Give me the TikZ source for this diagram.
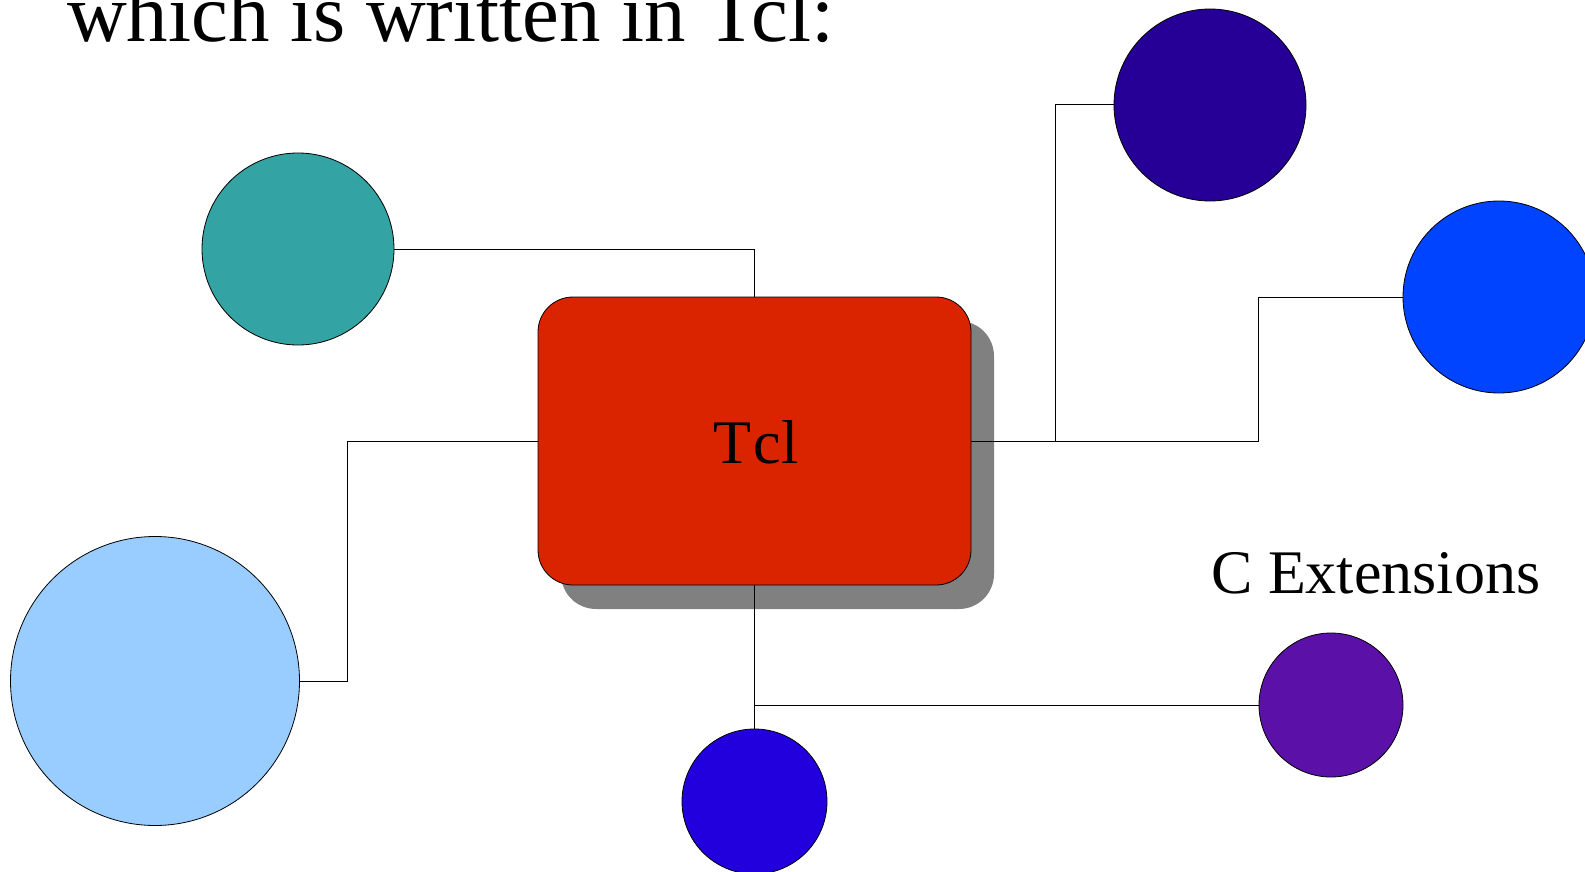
\documentclass[tikz,border=0pt]{standalone}
\usepackage{fontspec}
\setmainfont{Liberation Serif}
\begin{document}
\begin{tikzpicture}[x=1pt,y=-1pt,
  blob/.style={circle,draw=black,line width=0.8pt,inner sep=0pt,outer sep=0pt},
  wire/.style={draw=black,line width=1pt},
  core/.style={rectangle,rounded corners=35pt,minimum width=433pt,minimum height=288pt,inner sep=0pt,outer sep=0pt},
  big/.style={font=\fontsize{82.8}{99}\selectfont},
  mid/.style={font=\fontsize{62}{74}\selectfont}]
\useasboundingbox (0,0) rectangle (1585,872);
\clip (0,0) rectangle (1585,872);

% heading
\node[big,anchor=base west,inner sep=0pt] (head) at (67,42) {which is written in Tcl:};

% shadow of the central box
\node[core,fill=black!50] (shade) at (777.5,465) {};

% circles
\node[blob,fill={rgb,255:red,51;green,163;blue,163},minimum size=192pt] (teal) at (298,249) {};
\node[blob,fill={rgb,255:red,153;green,204;blue,255},minimum size=289pt] (sky) at (155,681) {};
\node[blob,fill={rgb,255:red,34;green,0;blue,221},minimum size=145pt] (low) at (754.5,801.5) {};
\node[blob,fill={rgb,255:red,91;green,17;blue,167},minimum size=144pt] (plum) at (1331,705) {};
\node[blob,fill={rgb,255:red,38;green,0;blue,150},minimum size=192pt] (ink) at (1210,105) {};
\node[blob,fill={rgb,255:red,0;green,68;blue,255},minimum size=192pt] (azure) at (1499,297) {};

% central box position (drawn after the connectors)
\coordinate (c) at (754.5,441);
\coordinate (ktop) at (754.5,297);
\coordinate (kbot) at (754.5,585);
\coordinate (kleft) at (538,441);
\coordinate (kright) at (971,441);

% connectors
\draw[wire] (teal.east) -| (ktop);
\draw[wire] (sky.east) -- (347,681) |- (kleft);
\draw[wire] (kbot) -- (low.north);
\draw[wire] (kbot) |- (plum.west);
\draw[wire] (kright) -- (1055,441) |- (ink.west);
\draw[wire] (kright) -- (1258,441) |- (azure.west);

% central box
\node[core,fill={rgb,255:red,218;green,36;blue,0},draw=black,line width=0.8pt] (tcl) at (c) {};
\node[mid,anchor=base,inner sep=0pt] (tcllabel) at (756,463) {T\kern2pt c\kern1pt l};

% label
\node[mid,anchor=base west,inner sep=0pt] (ext) at (1211,593) {C Extensions};
\end{tikzpicture}
\end{document}
